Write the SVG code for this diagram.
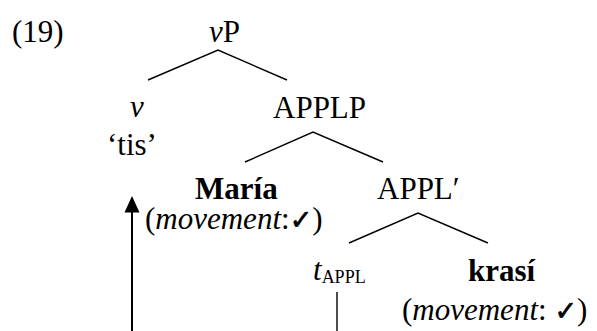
<svg xmlns="http://www.w3.org/2000/svg" width="597" height="331" viewBox="0 0 597 331">
<defs>
<style>
text{font-family:'Liberation Serif','Times New Roman',serif;font-size:31px;fill:#000}
.b{font-weight:bold}
.i{font-style:italic}
.sub{font-size:18px}
.ck{font-family:'DejaVu Sans',sans-serif;font-size:27px;stroke:#000;stroke-width:0.7}
.edge{stroke:#000;stroke-width:1.4;fill:none}
.mv{stroke:#000;stroke-width:2;fill:none}
</style>
</defs>
<rect width="597" height="331" fill="#fff"/>
<g id="label"><text x="12" y="42">(19)</text></g>
<g id="vP"><text x="209" y="42"><tspan class="i">v</tspan>P</text></g>
<g id="v"><text x="130" y="117" class="i">v</text><text x="107" y="155">‘tis’</text></g>
<g id="APPLP"><text x="273" y="118">APPLP</text></g>
<g id="Maria"><text x="195" y="199" class="b">María</text><text x="145" y="229">(<tspan class="i">movement</tspan>:<tspan class="ck">✓</tspan>)</text></g>
<g id="APPLbar"><text x="377" y="199">APPL′</text></g>
<g id="tAPPL"><text x="313" y="280"><tspan class="i">t</tspan><tspan class="sub" dy="3">APPL</tspan></text></g>
<g id="krasi"><text x="468" y="281" class="b">krasí</text><text x="402" y="320">(<tspan class="i">movement</tspan>: <tspan class="ck">✓</tspan>)</text></g>
<g id="connectors">
<path class="edge" d="M148,80 L218,50 L287,80"/>
<path class="edge" d="M245,162 L313,132 L383,162"/>
<path class="edge" d="M349,243 L418,213 L488,243"/>
<path class="edge" d="M337,292 L337,331"/>
<path class="mv" d="M132,331 L132,211"/>
<path d="M132,196 L124.5,212.5 L139.5,212.5 Z" fill="#000"/>
</g>
</svg>
